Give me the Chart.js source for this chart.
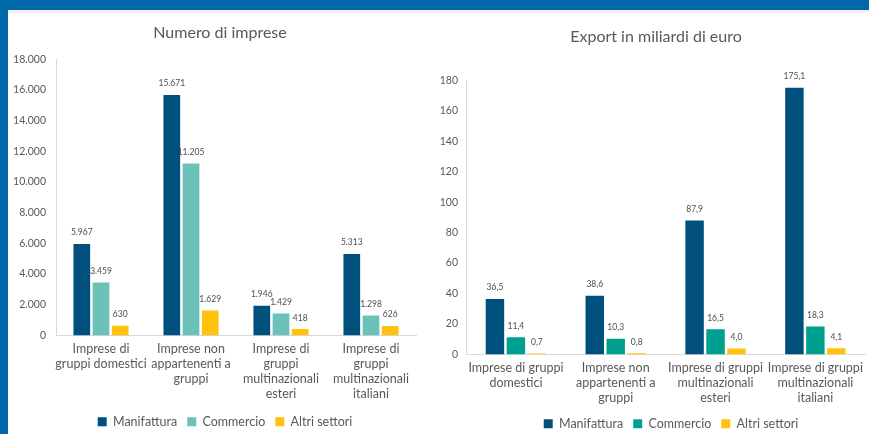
<!DOCTYPE html>
<html>
<head>
<meta charset="utf-8">
<script src="https://cdn.jsdelivr.net/npm/chart.js@4.4.1/dist/chart.umd.min.js"></script>
<style>
  html, body { margin: 0; padding: 0; }
  body { width: 869px; height: 434px; overflow: hidden; background: #0068a9; position: relative; }
  #panel { position: absolute; left: 8px; top: 10px; width: 861px; height: 424px; background: #fff; border-top: 3px solid #f0f0f0; box-sizing: border-box; }
  .box { position: absolute; }
  #left { left: 8px; top: 14px; width: 420px; height: 424px; }
  #right { left: 430px; top: 14px; width: 439px; height: 426px; }
</style>
</head>
<body>
<div id="panel"></div>
<div class="box" id="left"><canvas id="chartImprese"></canvas></div>
<div class="box" id="right"><canvas id="chartExport"></canvas></div>
<script>
const seriesNames = ["Manifattura", "Commercio", "Altri settori"];

const categoriesImprese = [
  ["Imprese di", "gruppi domestici"],
  ["Imprese non", "appartenenti a", "gruppi"],
  ["Imprese di", "gruppi", "multinazionali", "esteri"],
  ["Imprese di", "gruppi", "multinazionali", "italiani"]
];
const impreseManifattura = [5967, 15671, 1946, 5313];
const impreseCommercio = [3459, 11205, 1429, 1298];
const impreseAltri = [630, 1629, 418, 626];

const categoriesExport = [
  ["Imprese di gruppi", "domestici"],
  ["Imprese non", "appartenenti a", "gruppi"],
  ["Imprese di gruppi", "multinazionali", "esteri"],
  ["Imprese di gruppi", "multinazionali", "italiani"]
];
const exportManifattura = [36.5, 38.6, 87.9, 175.1];
const exportCommercio = [11.4, 10.3, 16.5, 18.3];
const exportAltri = [0.7, 0.8, 4.0, 4.1];

const FONT = "Lato, 'Open Sans', sans-serif";
const TEXT = "#595959";

// numero con separatore delle migliaia
const fmtInt = v => String(v).replace(/\B(?=(\d{3})+(?!\d))/g, ".");
const fmtDec = v => v.toFixed(1).replace(".", ",");

// etichette dei valori sopra le barre
const valueLabels = {
  id: "valueLabels",
  afterDatasetsDraw(chart, args, opts) {
    const ctx = chart.ctx;
    ctx.save();
    ctx.font = "8.5px " + FONT;
    ctx.fillStyle = "#4d4d4d";
    ctx.textAlign = "center";
    ctx.textBaseline = "bottom";
    chart.data.datasets.forEach((ds, i) => {
      chart.getDatasetMeta(i).data.forEach((bar, j) => {
        ctx.fillText(opts.format(ds.data[j]), bar.x, bar.y - 7);
      });
    });
    ctx.restore();
  }
};

// sposta titolo e legenda in orizzontale dopo il layout
const shiftBlocks = {
  id: "shiftBlocks",
  afterLayout(chart, args, opts) {
    if (chart.titleBlock) {
      chart.titleBlock.left += opts.title;
      chart.titleBlock.right += opts.title;
    }
    if (chart.legend) {
      chart.legend.left += opts.legend;
      chart.legend.right += opts.legend;
    }
  }
};

function makeChart(id, cfg) {
  return new Chart(document.getElementById(id), {
    type: "bar",
    data: {
      labels: cfg.labels,
      datasets: [
        { label: seriesNames[0], data: cfg.values[0], backgroundColor: "#00507e" },
        { label: seriesNames[1], data: cfg.values[1], backgroundColor: cfg.teal },
        { label: seriesNames[2], data: cfg.values[2], backgroundColor: "#ffc20e" }
      ]
    },
    options: {
      responsive: true,
      maintainAspectRatio: false,
      animation: false,
      categoryPercentage: cfg.cp,
      barPercentage: cfg.bp,
      layout: { padding: { left: 0, right: cfg.padRight, top: 0, bottom: 0 } },
      plugins: {
        title: {
          display: true,
          text: cfg.title,
          color: TEXT,
          font: { family: FONT, size: 16, weight: "normal" },
          padding: { top: cfg.titleTop, bottom: cfg.titleBottom }
        },
        legend: {
          position: "bottom",
          labels: {
            color: TEXT,
            boxWidth: 9,
            boxHeight: 9,
            padding: 10,
            font: { family: FONT, size: 12.5 }
          }
        },
        tooltip: { enabled: false },
        valueLabels: { format: cfg.format },
        shiftBlocks: cfg.shift
      },
      scales: {
        x: {
          grid: { display: false, drawTicks: false },
          border: { display: true, color: "#d9d9d9", width: 1 },
          ticks: {
            color: TEXT,
            autoSkip: false,
            maxRotation: 0,
            padding: 6,
            font: { family: FONT, size: 12.5, lineHeight: 1.2 }
          },
          afterFit(axis) { axis.height = cfg.xHeight; }
        },
        y: {
          min: 0,
          max: cfg.max,
          grid: { display: false, drawTicks: false },
          border: { display: true, color: "#d9d9d9", width: 1 },
          ticks: {
            stepSize: cfg.step,
            color: TEXT,
            padding: cfg.tickPad,
            font: { family: FONT, size: 10.5 },
            callback: v => cfg.tickFmt(v)
          },
          afterFit(axis) { axis.width = cfg.yWidth; }
        }
      }
    },
    plugins: [valueLabels, shiftBlocks]
  });
}

makeChart("chartImprese", {
  labels: categoriesImprese,
  values: [impreseManifattura, impreseCommercio, impreseAltri],
  teal: "#6cc1b9",
  title: "Numero di imprese",
  titleTop: 9,
  titleBottom: 17,
  max: 18000,
  step: 2000,
  tickFmt: fmtInt,
  format: fmtInt,
  yWidth: 48,
  tickPad: 10,
  padRight: 12,
  xHeight: 70,
  cp: 0.64,
  bp: 0.87,
  shift: { title: 8, legend: 13 }
});

makeChart("chartExport", {
  labels: categoriesExport,
  values: [exportManifattura, exportCommercio, exportAltri],
  teal: "#00a091",
  title: "Export in miliardi di euro",
  titleTop: 13,
  titleBottom: 34,
  max: 180,
  step: 20,
  tickFmt: v => String(v),
  format: fmtDec,
  yWidth: 36,
  tickPad: 8,
  padRight: 1,
  xHeight: 53,
  cp: 0.63,
  bp: 0.88,
  shift: { title: 7, legend: 22 }
});
</script>
</body>
</html>
